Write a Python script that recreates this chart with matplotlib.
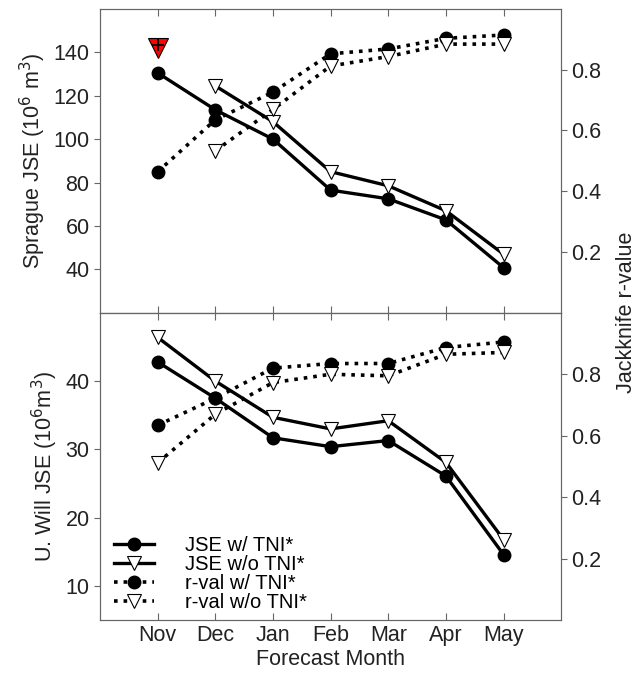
import numpy as np
import matplotlib
matplotlib.use("Agg")
import matplotlib.pyplot as plt

plt.rcParams['font.family'] = ['Liberation Sans', 'DejaVu Sans']
plt.rcParams['font.size'] = 15.5

months = ["Nov", "Dec", "Jan", "Feb", "Mar", "Apr", "May"]
xpos = np.arange(1, 8)

# Sprague (top panel)
spr_jse_w = [130.5, 113.5, 100.0, 76.5, 72.5, 62.8, 40.8]
spr_jse_wo = [np.nan, 124.5, 108.0, 85.0, 78.5, 67.0, 47.0]
spr_r_w = [0.464, 0.635, 0.726, 0.852, 0.868, 0.903, 0.914]
spr_r_wo = [np.nan, 0.533, 0.669, 0.812, 0.843, 0.884, 0.884]
spr_flag = 142.0  # red marker at Nov

# Upper Willamette (bottom panel)
uw_jse_w = [42.8, 37.5, 31.7, 30.4, 31.3, 26.1, 14.6]
uw_jse_wo = [46.4, 40.0, 34.7, 33.0, 34.2, 28.1, 16.8]
uw_r_w = [0.634, 0.722, 0.820, 0.835, 0.835, 0.887, 0.905]
uw_r_wo = [0.512, 0.670, 0.773, 0.800, 0.795, 0.865, 0.871]

spine_col = '#666666'
txt_col = '#222222'

fig = plt.figure(figsize=(6.37, 6.8), dpi=100)
ax1 = fig.add_axes([0.157, 0.540, 0.724, 0.447])
ax2 = fig.add_axes([0.157, 0.088, 0.724, 0.452])

circ = dict(marker='o', markersize=9, markerfacecolor='black', markeredgecolor='black')
tri = dict(marker='v', markersize=10, markerfacecolor='white', markeredgecolor='black',
           markeredgewidth=0.8)


def draw_panel(ax, jse_w, jse_wo, r_w, r_wo, ylim, yticks, ylabel):
    axr = ax.twinx()
    l1, = ax.plot(xpos, jse_w, '-', color='black', lw=2.4, label='JSE w/ TNI*', **circ)
    l2, = ax.plot(xpos, jse_wo, '-', color='black', lw=2.4, label='JSE w/o TNI*', **tri)
    l3, = axr.plot(xpos, r_w, ':', color='black', lw=2.6, label='r-val w/ TNI*', **circ)
    l4, = axr.plot(xpos, r_wo, ':', color='black', lw=2.6, label='r-val w/o TNI*', **tri)
    ax.set_xlim(0, 8)
    ax.set_ylim(*ylim)
    ax.set_yticks(yticks)
    axr.set_ylim(0, 1)
    axr.set_yticks([0.2, 0.4, 0.6, 0.8])
    ax.set_xticks(xpos)
    ax.set_ylabel(ylabel, color=txt_col, labelpad=4)
    for a in (ax, axr):
        for s in a.spines.values():
            s.set_color(spine_col)
        a.tick_params(axis='y', direction='out', length=4, color=spine_col,
                      labelcolor=txt_col)
    ax.tick_params(axis='x', direction='in', top=True, length=5, color=spine_col,
                   labelcolor=txt_col)
    return axr, [l1, l2, l3, l4]


ax1r, _ = draw_panel(ax1, spr_jse_w, spr_jse_wo, spr_r_w, spr_r_wo,
                     (20, 160), [40, 60, 80, 100, 120, 140], 'Sprague JSE (10$^6$ m$^3$)')
ax1.tick_params(axis='x', labelbottom=False)
ax1.plot([1], [spr_flag], marker='v', markersize=15, markerfacecolor='red',
         markeredgecolor='black', markeredgewidth=0.8, linestyle='none', zorder=5)
ax1.plot([1], [spr_flag + 1.5], marker='+', markersize=8, color='black',
         markeredgewidth=1.3, linestyle='none', zorder=6)

ax2r, handles = draw_panel(ax2, uw_jse_w, uw_jse_wo, uw_r_w, uw_r_wo,
                           (5, 50), [10, 20, 30, 40], 'U. Will JSE (10$^6$m$^3$)')
ax2.set_xticklabels(months)
ax2.set_xlabel('Forecast Month', color=txt_col, labelpad=2)

ax2r.legend(handles=handles, loc='lower left', bbox_to_anchor=(0.013, 0.0), frameon=False,
            numpoints=1, handlelength=2.0, handletextpad=1.5, labelspacing=0.0,
            borderaxespad=0.0, fontsize=14.5)

fig.text(0.984, 0.540, 'Jackknife r-value', rotation=90, ha='center', va='center',
         color=txt_col)

fig.savefig('out.png', dpi=100)
